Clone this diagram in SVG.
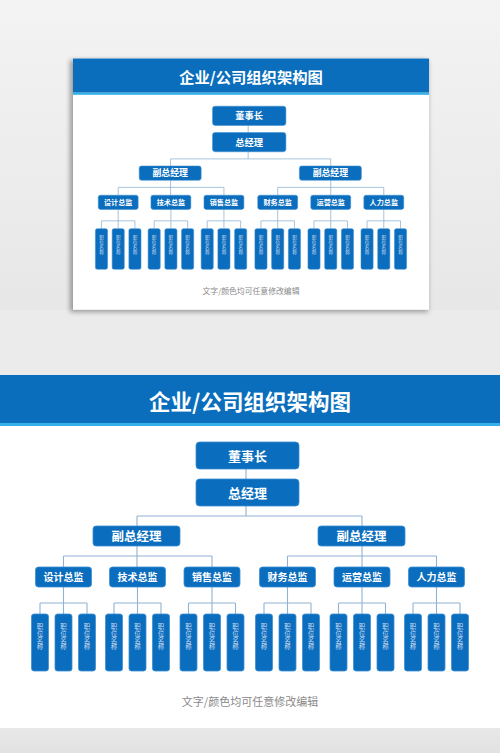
<svg xmlns="http://www.w3.org/2000/svg" xmlns:xlink="http://www.w3.org/1999/xlink" width="500" height="753" viewBox="0 0 500 753">
<style>
.nd{fill:#0b6dbd;stroke:#3d8fd3;stroke-width:0.8}
.t{font-family:"Noto Sans CJK SC",sans-serif;fill:#fff;font-weight:700;text-anchor:middle}
.lf{font-family:"Noto Sans CJK SC",sans-serif;fill:#c9dcf0;font-size:13px;text-anchor:middle}
.cn{fill:none;stroke:#8fb3d1;stroke-width:1.1}
</style>
<defs>
<linearGradient id="wall" x1="0" y1="0" x2="0" y2="1">
<stop offset="0" stop-color="#f3f3f3"/>
<stop offset="1" stop-color="#e7e7e7"/>
</linearGradient>
<linearGradient id="floor" x1="0" y1="0" x2="0" y2="1">
<stop offset="0" stop-color="#e8e8e8"/>
<stop offset="1" stop-color="#e2e2e2"/>
</linearGradient>
<filter id="sh" x="-10%" y="-10%" width="120%" height="120%">
<feGaussianBlur stdDeviation="2.5"/>
</filter>
<g id="chart">
<rect x="0" y="0" width="500" height="353" fill="#fff"/>
<g id="header">
<rect x="0" y="0" width="500" height="48" fill="#0a6ebd"/>
<rect x="0" y="48" width="500" height="3" fill="#33b1ea"/>
<text class="t" x="250" y="35" font-size="21.5">企业/公司组织架构图</text>
</g>
<g id="connectors" class="cn">
<path d="M246 94V104M246 131V141M137 141H362M137 141V151M362 141V151"/>
<path d="M137 171V192M63.5 181H212M63.5 181V192M212 181V192M362 171V192M287.5 181H436.5M287.5 181V192M436.5 181V192"/>
<path d="M63.5 212V239M40 228H87M40 228V239M87 228V239"/>
<path d="M137.5 212V239M114 228H161M114 228V239M161 228V239"/>
<path d="M212 212V239M188.5 228H235.5M188.5 228V239M235.5 228V239"/>
<path d="M287.5 212V239M264 228H311M264 228V239M311 228V239"/>
<path d="M362 212V239M338.5 228H385.5M338.5 228V239M385.5 228V239"/>
<path d="M436.5 212V239M413 228H460M413 228V239M460 228V239"/>
</g>
<g id="chairman"><rect class="nd" x="196" y="67" width="103" height="27" rx="3.5"/><text class="t" x="247.5" y="85.5" font-size="13">董事长</text></g>
<g id="gm"><rect class="nd" x="196" y="104" width="103" height="27" rx="3.5"/><text class="t" x="247.5" y="122.5" font-size="13">总经理</text></g>
<g id="vp1"><rect class="nd" x="93" y="151" width="87" height="20" rx="3"/><text class="t" x="136.5" y="165.7" font-size="12.5">副总经理</text></g>
<g id="vp2"><rect class="nd" x="318" y="151" width="87" height="20" rx="3"/><text class="t" x="361.5" y="165.7" font-size="12.5">副总经理</text></g>
<g id="dir-design"><rect class="nd" x="35.5" y="192" width="56" height="20" rx="3"/><text class="t" x="63.5" y="205.8" font-size="10">设计总监</text></g>
<g id="dir-tech"><rect class="nd" x="109.5" y="192" width="56" height="20" rx="3"/><text class="t" x="137.5" y="205.8" font-size="10">技术总监</text></g>
<g id="dir-sales"><rect class="nd" x="184" y="192" width="56" height="20" rx="3"/><text class="t" x="212" y="205.8" font-size="10">销售总监</text></g>
<g id="dir-finance"><rect class="nd" x="259.5" y="192" width="56" height="20" rx="3"/><text class="t" x="287.5" y="205.8" font-size="10">财务总监</text></g>
<g id="dir-ops"><rect class="nd" x="334" y="192" width="56" height="20" rx="3"/><text class="t" x="362" y="205.8" font-size="10">运营总监</text></g>
<g id="dir-hr"><rect class="nd" x="408.5" y="192" width="56" height="20" rx="3"/><text class="t" x="436.5" y="205.8" font-size="10">人力总监</text></g>
<g id="leaf1"><rect class="nd" x="31.5" y="239" width="17" height="57" rx="2.5"/><text class="lf" transform="translate(40,254) scale(0.5)"><tspan x="0" y="0">职</tspan><tspan x="0" y="13.6">位</tspan><tspan x="0" y="27.2">名</tspan><tspan x="0" y="40.8">称</tspan></text></g>
<g id="leaf2"><rect class="nd" x="55" y="239" width="17" height="57" rx="2.5"/><text class="lf" transform="translate(63.5,254) scale(0.5)"><tspan x="0" y="0">职</tspan><tspan x="0" y="13.6">位</tspan><tspan x="0" y="27.2">名</tspan><tspan x="0" y="40.8">称</tspan></text></g>
<g id="leaf3"><rect class="nd" x="78.5" y="239" width="17" height="57" rx="2.5"/><text class="lf" transform="translate(87,254) scale(0.5)"><tspan x="0" y="0">职</tspan><tspan x="0" y="13.6">位</tspan><tspan x="0" y="27.2">名</tspan><tspan x="0" y="40.8">称</tspan></text></g>
<g id="leaf4"><rect class="nd" x="105.5" y="239" width="17" height="57" rx="2.5"/><text class="lf" transform="translate(114,254) scale(0.5)"><tspan x="0" y="0">职</tspan><tspan x="0" y="13.6">位</tspan><tspan x="0" y="27.2">名</tspan><tspan x="0" y="40.8">称</tspan></text></g>
<g id="leaf5"><rect class="nd" x="129" y="239" width="17" height="57" rx="2.5"/><text class="lf" transform="translate(137.5,254) scale(0.5)"><tspan x="0" y="0">职</tspan><tspan x="0" y="13.6">位</tspan><tspan x="0" y="27.2">名</tspan><tspan x="0" y="40.8">称</tspan></text></g>
<g id="leaf6"><rect class="nd" x="152.5" y="239" width="17" height="57" rx="2.5"/><text class="lf" transform="translate(161,254) scale(0.5)"><tspan x="0" y="0">职</tspan><tspan x="0" y="13.6">位</tspan><tspan x="0" y="27.2">名</tspan><tspan x="0" y="40.8">称</tspan></text></g>
<g id="leaf7"><rect class="nd" x="180" y="239" width="17" height="57" rx="2.5"/><text class="lf" transform="translate(188.5,254) scale(0.5)"><tspan x="0" y="0">职</tspan><tspan x="0" y="13.6">位</tspan><tspan x="0" y="27.2">名</tspan><tspan x="0" y="40.8">称</tspan></text></g>
<g id="leaf8"><rect class="nd" x="203.5" y="239" width="17" height="57" rx="2.5"/><text class="lf" transform="translate(212,254) scale(0.5)"><tspan x="0" y="0">职</tspan><tspan x="0" y="13.6">位</tspan><tspan x="0" y="27.2">名</tspan><tspan x="0" y="40.8">称</tspan></text></g>
<g id="leaf9"><rect class="nd" x="227" y="239" width="17" height="57" rx="2.5"/><text class="lf" transform="translate(235.5,254) scale(0.5)"><tspan x="0" y="0">职</tspan><tspan x="0" y="13.6">位</tspan><tspan x="0" y="27.2">名</tspan><tspan x="0" y="40.8">称</tspan></text></g>
<g id="leaf10"><rect class="nd" x="255.5" y="239" width="17" height="57" rx="2.5"/><text class="lf" transform="translate(264,254) scale(0.5)"><tspan x="0" y="0">职</tspan><tspan x="0" y="13.6">位</tspan><tspan x="0" y="27.2">名</tspan><tspan x="0" y="40.8">称</tspan></text></g>
<g id="leaf11"><rect class="nd" x="279" y="239" width="17" height="57" rx="2.5"/><text class="lf" transform="translate(287.5,254) scale(0.5)"><tspan x="0" y="0">职</tspan><tspan x="0" y="13.6">位</tspan><tspan x="0" y="27.2">名</tspan><tspan x="0" y="40.8">称</tspan></text></g>
<g id="leaf12"><rect class="nd" x="302.5" y="239" width="17" height="57" rx="2.5"/><text class="lf" transform="translate(311,254) scale(0.5)"><tspan x="0" y="0">职</tspan><tspan x="0" y="13.6">位</tspan><tspan x="0" y="27.2">名</tspan><tspan x="0" y="40.8">称</tspan></text></g>
<g id="leaf13"><rect class="nd" x="330" y="239" width="17" height="57" rx="2.5"/><text class="lf" transform="translate(338.5,254) scale(0.5)"><tspan x="0" y="0">职</tspan><tspan x="0" y="13.6">位</tspan><tspan x="0" y="27.2">名</tspan><tspan x="0" y="40.8">称</tspan></text></g>
<g id="leaf14"><rect class="nd" x="353.5" y="239" width="17" height="57" rx="2.5"/><text class="lf" transform="translate(362,254) scale(0.5)"><tspan x="0" y="0">职</tspan><tspan x="0" y="13.6">位</tspan><tspan x="0" y="27.2">名</tspan><tspan x="0" y="40.8">称</tspan></text></g>
<g id="leaf15"><rect class="nd" x="377" y="239" width="17" height="57" rx="2.5"/><text class="lf" transform="translate(385.5,254) scale(0.5)"><tspan x="0" y="0">职</tspan><tspan x="0" y="13.6">位</tspan><tspan x="0" y="27.2">名</tspan><tspan x="0" y="40.8">称</tspan></text></g>
<g id="leaf16"><rect class="nd" x="404.5" y="239" width="17" height="57" rx="2.5"/><text class="lf" transform="translate(413,254) scale(0.5)"><tspan x="0" y="0">职</tspan><tspan x="0" y="13.6">位</tspan><tspan x="0" y="27.2">名</tspan><tspan x="0" y="40.8">称</tspan></text></g>
<g id="leaf17"><rect class="nd" x="428" y="239" width="17" height="57" rx="2.5"/><text class="lf" transform="translate(436.5,254) scale(0.5)"><tspan x="0" y="0">职</tspan><tspan x="0" y="13.6">位</tspan><tspan x="0" y="27.2">名</tspan><tspan x="0" y="40.8">称</tspan></text></g>
<g id="leaf18"><rect class="nd" x="451.5" y="239" width="17" height="57" rx="2.5"/><text class="lf" transform="translate(460,254) scale(0.5)"><tspan x="0" y="0">职</tspan><tspan x="0" y="13.6">位</tspan><tspan x="0" y="27.2">名</tspan><tspan x="0" y="40.8">称</tspan></text></g>
<text id="footer" x="250" y="331" font-family="Noto Sans CJK SC, sans-serif" font-size="11" fill="#8a8a8a" text-anchor="middle">文字/颜色均可任意修改编辑</text>
</g>
</defs>
<rect x="0" y="0" width="500" height="310" fill="url(#wall)"/>
<rect x="0" y="310" width="500" height="65" fill="#ebebeb"/>
<rect x="0" y="728" width="500" height="25" fill="url(#floor)"/>
<rect x="70" y="60" width="358" height="252" fill="#000" opacity="0.35" filter="url(#sh)"/>
<use xlink:href="#chart" transform="translate(73,58.5) scale(0.712)"/>
<use xlink:href="#chart" transform="translate(0,375)"/>
</svg>
